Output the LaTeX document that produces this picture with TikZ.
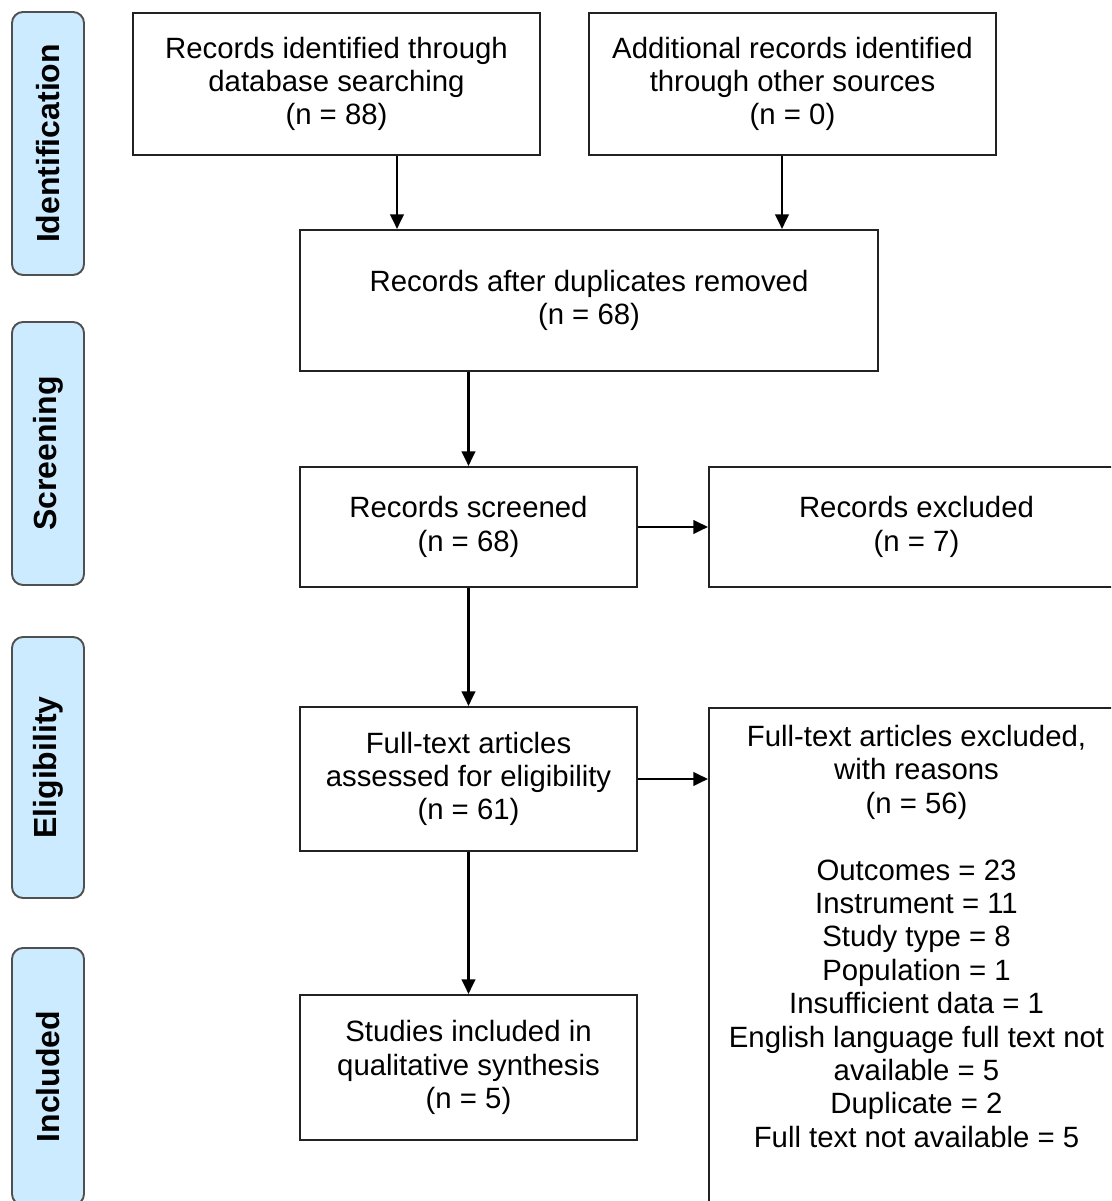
\documentclass[tikz,border=0pt]{standalone}
\usepackage{fontspec}
\setmainfont{Liberation Sans}
\usetikzlibrary{arrows.meta, positioning}
\definecolor{PhaseBlue}{HTML}{CCEBFF}
\definecolor{PhaseEdge}{HTML}{505050}
\definecolor{BoxEdge}{HTML}{222222}

\begin{document}
\begin{tikzpicture}[
    box/.style={rectangle, draw=BoxEdge, line width=1.2pt, align=center, inner sep=0pt, font=\fontsize{16.7pt}{19pt}\selectfont},
    phasebox/.style={rectangle, rounded corners=0.22cm, draw=PhaseEdge, line width=1.1pt, fill=PhaseBlue, rotate=90, minimum height=1.44cm, font=\fontsize{18.2pt}{20pt}\selectfont\bfseries},
    arrow/.style={-{Triangle[length=0.29cm, width=0.27cm]}, line width=1.2pt, color=black}
]
\clip (0,0) rectangle (22.22,24.02);

% phase labels
\node[phasebox, minimum width=5.26cm] (phaseid) at (0.96,21.15) {Identification};
\node[phasebox, minimum width=5.26cm] (phasescr) at (0.96,14.95) {Screening};
\node[phasebox, minimum width=5.22cm] (phaseelig) at (0.96,8.67) {Eligibility};
\node[phasebox, minimum width=5.14cm] (phaseinc) at (0.96,2.49) {Included};

% flow boxes
\node[box, minimum width=8.14cm, minimum height=2.84cm] (dbsearch) at (6.73,22.34) {Records identified through\\database searching\\(n = 88)};
\node[box, minimum width=8.14cm, minimum height=2.84cm] (othersrc) at (15.85,22.34) {Additional records identified\\through other sources\\(n = 0)};
\node[box, minimum width=11.56cm, minimum height=2.82cm] (dedup) at (11.78,18.01) {Records after duplicates removed\\(n = 68)};
\node[box, minimum width=6.74cm, minimum height=2.4cm] (screened) at (9.37,13.48) {Records screened\\(n = 68)};
\node[box, minimum width=8.3cm, minimum height=2.4cm] (screenex) at (18.33,13.48) {Records excluded\\(n = 7)};
\node[box, minimum width=6.74cm, minimum height=2.88cm] (fulltext) at (9.37,8.44) {Full-text articles\\assessed for eligibility\\(n = 61)};
\node[box, minimum width=8.3cm, minimum height=10.44cm] (fullex) at (18.33,4.64) {};
\node[align=center, inner sep=0pt, anchor=north, font=\fontsize{16.7pt}{19pt}\selectfont] (fullextxt) at ([yshift=-0.36cm]fullex.north) {Full-text articles excluded,\\with reasons\\(n = 56)\\[19pt]Outcomes = 23\\Instrument = 11\\Study type = 8\\Population = 1\\Insufficient data = 1\\English language full text not\\available = 5\\Duplicate = 2\\Full text not available = 5};
\node[box, minimum width=6.74cm, minimum height=2.9cm] (included) at (9.37,2.67) {Studies included in\\qualitative synthesis\\(n = 5)};

% connectors
\draw[arrow] ([xshift=1.21cm]dbsearch.south) -- ([xshift=1.21cm]dbsearch.south |- dedup.north);
\draw[arrow] ([xshift=-0.21cm]othersrc.south) -- ([xshift=-0.21cm]othersrc.south |- dedup.north);
\draw[arrow] (dedup.south -| screened.north) -- (screened.north);
\draw[arrow] (screened) -- (screenex);
\draw[arrow] (screened) -- (fulltext);
\draw[arrow] (fulltext.east) -- (fulltext.east -| fullex.west);
\draw[arrow] (fulltext) -- (included);

\end{tikzpicture}
\end{document}
